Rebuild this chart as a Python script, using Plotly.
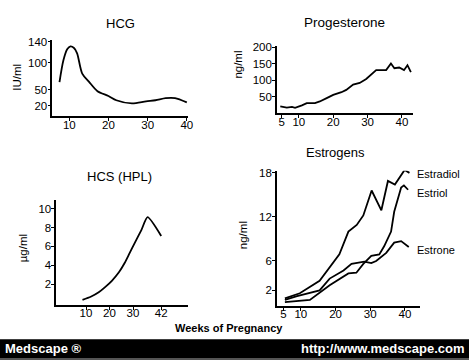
import plotly.graph_objects as go

W, H = 474, 360

# ---- data ----
hcg_weeks = [7.5, 8.5, 9.5, 10.3, 11.2, 12.0, 13.3, 15.0, 17.2, 20.0, 22.0, 26.0, 29.6, 32.0, 34.6, 37.0, 40.0]
hcg_vals = [64, 105, 126, 131, 128, 118, 80, 65, 47, 38, 30, 24, 28, 30, 34, 34, 26]

prog_weeks = [4.6, 6.5, 8.0, 8.9, 10.9, 12.3, 14.7, 16.1, 18.1, 20.0, 22.4, 23.8, 25.8, 27.7, 29.6, 32.5, 35.4, 36.8, 37.8, 39.2, 40.6, 41.6, 42.6]
prog_vals = [20, 16.5, 18.5, 15.5, 23, 30, 30, 35, 45, 55, 63, 70, 86, 91, 103, 130, 130, 150, 136, 138, 130, 145, 124]

hcs_weeks = [8.5, 12.0, 15.4, 18.0, 21.0, 24.0, 26.5, 28.5, 30.7, 33.5, 36.2, 42.0]
hcs_vals = [0.33, 0.65, 1.13, 1.65, 2.35, 3.25, 4.26, 5.25, 6.35, 7.7, 9.1, 7.1]

estradiol_weeks = [5.4, 9.7, 15.4, 19.7, 21.1, 23.7, 26.1, 28.0, 30.4, 33.2, 35.1, 37.1, 39.9, 41.3]
estradiol_vals = [0.9, 1.6, 3.3, 6.0, 6.9, 10.0, 10.9, 12.2, 15.6, 12.9, 16.9, 16.4, 18.4, 18.0]

estriol_weeks = [5.4, 12.6, 18.3, 23.7, 26.0, 28.0, 30.3, 32.6, 34.0, 36.0, 36.9, 38.9, 39.7, 40.9]
estriol_vals = [0.4, 0.7, 2.7, 4.3, 4.4, 5.6, 6.7, 6.9, 8.0, 10.0, 12.7, 16.0, 16.3, 15.7]

estrone_weeks = [5.4, 8.9, 15.4, 18.3, 22.3, 24.6, 28.3, 30.3, 31.7, 34.6, 36.9, 38.9, 41.1]
estrone_vals = [0.7, 1.2, 2.0, 3.6, 4.7, 5.6, 5.9, 5.7, 6.0, 7.1, 8.5, 8.7, 7.9]

hcg_yticks = [20, 50, 100, 140]
hcg_xticks = [10, 20, 30, 40]
prog_yticks = [50, 100, 150, 200]
prog_xticks = [5, 10, 20, 30, 40]
hcs_yticks = [2, 4, 6, 8, 10]
hcs_xticks = [10, 20, 30, 42]
est_yticks = [2, 6, 12, 18]
est_xticks = [5, 10, 20, 30, 40]


def px_x(p):
    return p / W


def px_y(p):
    return 1 - p / H


FONT = "Liberation Sans, Arial, sans-serif"
line_style = dict(color="black", width=1.8)

fig = go.Figure()
fig.add_trace(go.Scatter(x=hcg_weeks, y=hcg_vals, mode="lines", line=dict(shape="spline", smoothing=0.8, **line_style), xaxis="x", yaxis="y"))
fig.add_trace(go.Scatter(x=prog_weeks, y=prog_vals, mode="lines", line=line_style, xaxis="x2", yaxis="y2"))
fig.add_trace(go.Scatter(x=hcs_weeks, y=hcs_vals, mode="lines", line=dict(shape="spline", smoothing=0.6, **line_style), xaxis="x3", yaxis="y3"))
fig.add_trace(go.Scatter(x=estradiol_weeks, y=estradiol_vals, mode="lines", line=line_style, xaxis="x4", yaxis="y4"))
fig.add_trace(go.Scatter(x=estriol_weeks, y=estriol_vals, mode="lines", line=line_style, xaxis="x4", yaxis="y4"))
fig.add_trace(go.Scatter(x=estrone_weeks, y=estrone_vals, mode="lines", line=line_style, xaxis="x4", yaxis="y4"))


def axis(domain, rng, ticks, anchor, standoff):
    return dict(domain=domain, range=rng, tickvals=ticks, ticktext=[str(t) for t in ticks],
                showline=True, linecolor="black", linewidth=1.8, ticks="outside", ticklen=3,
                tickwidth=1.2, tickcolor="black", showgrid=False, zeroline=False, anchor=anchor,
                ticklabelstandoff=standoff,
                tickfont=dict(family=FONT, size=11.5, color="black"), fixedrange=True)


XS, YS = -6, -2
layout = dict(
    width=W, height=H, margin=dict(l=0, r=0, t=0, b=0),
    paper_bgcolor="white", plot_bgcolor="white", showlegend=False,
    # HCG
    xaxis=axis([px_x(53), px_x(190)], [5.7, 40.3], hcg_xticks, "y", XS),
    yaxis=axis([px_y(112.8), px_y(35)], [0, 144], hcg_yticks, "x", YS),
    # Progesterone
    xaxis2=axis([px_x(280), px_x(417)], [3.66, 43.1], prog_xticks, "y2", XS),
    yaxis2=axis([px_y(109.5), px_y(42)], [0, 202], prog_yticks, "x2", YS),
    # HCS
    xaxis3=axis([px_x(57), px_x(190)], [-2.6, 53.4], hcs_xticks, "y3", XS),
    yaxis3=axis([px_y(304), px_y(198)], [-0.2, 10.9], hcs_yticks, "x3", YS),
    # Estrogens
    xaxis4=axis([px_x(280), px_x(424)], [3.14, 44.2], est_xticks, "y4", XS),
    yaxis4=axis([px_y(305), px_y(168)], [-0.1, 18.3], est_yticks, "x4", YS),
)
fig.update_layout(**layout)

ann = []


def text(x, y, s, size=11, angle=0, color="black", xanchor="center", bold=False):
    ann.append(dict(x=px_x(x), y=px_y(y), xref="paper", yref="paper", text=f"<b>{s}</b>" if bold else s,
                    showarrow=False, textangle=angle, xanchor=xanchor, yanchor="middle",
                    font=dict(family=FONT, size=size, color=color)))


text(122, 19, "HCG", 13)
text(348, 18, "Progesterone", 13.5)
text(121, 174, "HCS (HPL)", 13)
text(339, 150, "Estrogens", 13)
text(17, 73, "IU/ml", 11.5, -90)
text(241, 60, "ng/ml", 11.5, -90)
text(23, 247, "µg/ml", 11.5, -90)
text(245, 233, "ng/ml", 11.5, -90)
text(419, 171, "Estradiol", 11, xanchor="left")
text(419, 191, "Estriol", 11, xanchor="left")
text(419, 248, "Estrone", 11, xanchor="left")
text(231, 328, "Weeks of Pregnancy", 11, bold=True)
text(3, 348.5, "Medscape ®", 13, color="white", xanchor="left", bold=True)
text(472, 348.5, "http://www.medscape.com", 13, color="white", xanchor="right", bold=True)

shapes = [
    dict(type="rect", xref="paper", yref="paper", x0=0, x1=1, y0=px_y(358), y1=px_y(339),
         fillcolor="black", line=dict(width=0), layer="below"),
    dict(type="rect", xref="paper", yref="paper", x0=0, x1=1, y0=0, y1=px_y(358),
         fillcolor="#555555", line=dict(width=0), layer="below"),
]
fig.update_layout(annotations=ann, shapes=shapes)

fig.write_html("out.html", config=dict(displayModeBar=False),
               post_script="document.body.style.margin='0';document.body.style.overflow='hidden';")
